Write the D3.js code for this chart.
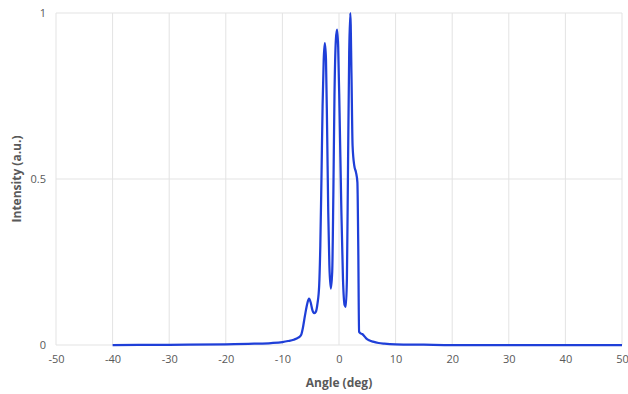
<!DOCTYPE html>
<html>
<head>
<meta charset="utf-8">
<script src="https://cdn.jsdelivr.net/npm/d3@7"></script>
<style>
  body { margin: 0; background: #fff; }
  text { font-family: "Open Sans", "Noto Sans", sans-serif; }
</style>
</head>
<body>
<svg id="chart" width="628" height="394"></svg>
<script>
var angles = [-40, -30, -20, -15, -12, -10, -9, -8, -7.2, -6.7, -6.4, -6.0, -5.6, -5.3, -5.0, -4.7, -4.4, -4.1, -3.8, -3.5,
  -3.3, -3.1, -2.9, -2.7, -2.5, -2.3, -2.1, -1.9, -1.7, -1.45, -1.2, -1.0, -0.8, -0.55, -0.35, -0.15, 0.1, 0.4, 0.7, 1.0,
  1.2, 1.4, 1.6, 1.8, 2.0, 2.2, 2.4, 2.7, 3.0, 3.25, 3.4, 3.55, 3.8, 4.1, 4.4, 4.8, 5.3, 6, 7, 8, 10, 15, 20, 30, 40, 50];
var intensity = [0, 0.0005, 0.002, 0.004, 0.006, 0.009, 0.012, 0.016, 0.022, 0.03, 0.05, 0.09, 0.125, 0.14, 0.128, 0.105, 0.096, 0.1, 0.125, 0.18,
  0.3, 0.5, 0.72, 0.86, 0.909, 0.86, 0.65, 0.4, 0.24, 0.17, 0.22, 0.45, 0.75, 0.92, 0.95, 0.9, 0.7, 0.42, 0.2, 0.12,
  0.115, 0.2, 0.55, 0.88, 1.0, 0.82, 0.6, 0.54, 0.52, 0.49, 0.3, 0.04, 0.035, 0.033, 0.028, 0.02, 0.014, 0.01, 0.006, 0.004, 0.002, 0.001, 0, 0, 0, 0];
var xTicks = [-50, -40, -30, -20, -10, 0, 10, 20, 30, 40, 50];
var yTicks = [0, 0.5, 1];

var svg = d3.select("#chart"),
    margin = {top: 13, right: 6, bottom: 49, left: 56},
    width = 628 - margin.left - margin.right,
    height = 394 - margin.top - margin.bottom,
    g = svg.append("g").attr("transform", "translate(" + margin.left + "," + margin.top + ")");

var x = d3.scaleLinear().domain([-50, 50]).range([0, width]);
var y = d3.scaleLinear().domain([0, 1]).range([height, 0]);

// gridlines
g.append("g")
  .selectAll("line")
  .data(xTicks)
  .enter().append("line")
    .attr("x1", function(d) { return x(d); })
    .attr("x2", function(d) { return x(d); })
    .attr("y1", 0)
    .attr("y2", height)
    .attr("stroke", "#e3e3e3")
    .attr("stroke-width", 1);

g.append("g")
  .selectAll("line")
  .data(yTicks)
  .enter().append("line")
    .attr("x1", 0)
    .attr("x2", width)
    .attr("y1", function(d) { return y(d); })
    .attr("y2", function(d) { return y(d); })
    .attr("stroke", "#e3e3e3")
    .attr("stroke-width", 1);

// axes (plain hyphen for negatives, like the original)
var fmt = function(d) { return String(d); };
var xAxis = g.append("g")
    .attr("transform", "translate(0," + height + ")")
    .call(d3.axisBottom(x).tickValues(xTicks).tickSize(0).tickPadding(10).tickFormat(fmt));
var yAxis = g.append("g")
    .call(d3.axisLeft(y).tickValues(yTicks).tickSize(0).tickPadding(10).tickFormat(fmt));

[xAxis, yAxis].forEach(function(a) {
  a.select(".domain").remove();
  a.selectAll("text").attr("fill", "#595959").style("font-size", "11px");
});

var points = angles.map(function(a, i) { return [a, intensity[i]]; });

var line = d3.line()
    .x(function(d) { return x(d[0]); })
    .y(function(d) { return y(d[1]); })
    .curve(d3.curveMonotoneX);

g.append("path")
    .datum(points)
    .attr("fill", "none")
    .attr("stroke", "#1f3fd8")
    .attr("stroke-width", 2.25)
    .attr("stroke-linejoin", "round")
    .attr("d", line);

svg.append("text")
    .attr("x", margin.left + width / 2)
    .attr("y", 387)
    .attr("text-anchor", "middle")
    .attr("fill", "#595959")
    .style("font-size", "12px")
    .style("font-weight", "bold")
    .text("Angle (deg)");

svg.append("text")
    .attr("transform", "translate(21," + (margin.top + height / 2) + ") rotate(-90)")
    .attr("text-anchor", "middle")
    .attr("fill", "#595959")
    .style("font-size", "12px")
    .style("font-weight", "bold")
    .text("Intensity (a.u.)");
</script>
</body>
</html>
